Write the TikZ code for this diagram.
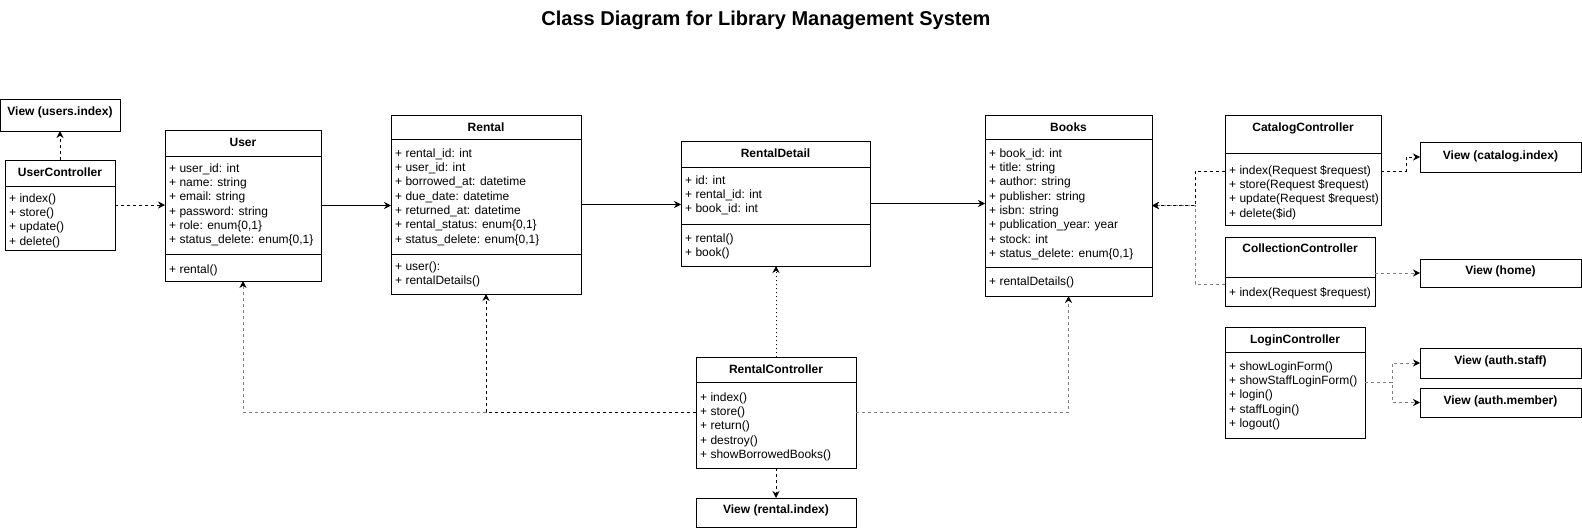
\documentclass[tikz,border=0pt]{standalone}
\usepackage{fontspec}
\setmainfont{Liberation Sans}
\usetikzlibrary{arrows.meta}
\newcommand\cdmembers[4]{%
  \foreach \t [count=\i] in {#4}{\node[mem] (#1\i) at (#2,{#3+14.3*(\i-1)}) {\t};}}
\tikzset{
  box/.style={draw=black, line width=1pt, fill=white, inner sep=0pt, outer sep=0pt, anchor=north west},
  ttl/.style={font=\fontsize{12}{14.3}\selectfont\bfseries, inner sep=0pt, anchor=base},
  mem/.style={font=\fontsize{12}{14.3}\selectfont, inner sep=0pt, anchor=base west},
  sepline/.style={line width=1pt},
  tipb/.tip={Stealth[length=7pt,width=7pt,color=black]},
  assoc/.style={line width=1pt, -tipb},
  dep/.style={line width=1pt, dash pattern=on 3pt off 3pt, -tipb},
  depg/.style={dep, draw=black!50},
  dotdep/.style={line width=1pt, dash pattern=on 1pt off 3pt, -tipb}
}
\begin{document}
\begin{tikzpicture}[x=1pt,y=-1pt]
\fill[white] (0,0) rectangle (1582,528);
\useasboundingbox (0,0) rectangle (1582,528);

% title
\node[font=\fontsize{20}{24}\selectfont\bfseries, inner sep=0pt] (title) at (766,20) {Class Diagram for Library Management System};

% ---------- boxes ----------
% View (users.index)
\node[box, minimum width=119.5, minimum height=32] (vusers) at (0.5,99) {};
\node[ttl] (vusers-t) at (60,115.5) {View (users.index)};

% UserController
\node[box, minimum width=110, minimum height=90] (uc) at (5,160) {};
\draw[sepline] (5,186) -- (115,186);
\node[ttl] (uc-t) at (60,176.5) {UserController};
\cdmembers{ucm}{9}{202.3}{+ index(), + store(), + update(), + delete()}

% User
\node[box, minimum width=156, minimum height=151] (user) at (165,130) {};
\draw[sepline] (165,156) -- (321,156);
\draw[sepline] (165,254) -- (321,254);
\node[ttl] (user-t) at (243,146.5) {User};
\cdmembers{usera}{169}{172.3}{+ user\_id: int, + name: string, + email: string, + password: string, {+ role: enum\{0,1\}}, {+ status\_delete: enum\{0,1\}}}
\cdmembers{userm}{169}{273.3}{+ rental()}

% Rental
\node[box, minimum width=190, minimum height=179] (rental) at (391,115) {};
\draw[sepline] (391,139) -- (581,139);
\draw[sepline] (391,254) -- (581,254);
\node[ttl] (rental-t) at (486,131) {Rental};
\cdmembers{rentala}{395}{157.3}{+ rental\_id: int, + user\_id: int, + borrowed\_at: datetime, + due\_date: datetime, + returned\_at: datetime, {+ rental\_status: enum\{0,1\}}, {+ status\_delete: enum\{0,1\}}}
\cdmembers{rentalm}{395}{270.3}{+ user():, + rentalDetails()}

% RentalDetail
\node[box, minimum width=189, minimum height=125] (rd) at (681,141) {};
\draw[sepline] (681,167) -- (870,167);
\draw[sepline] (681,224) -- (870,224);
\node[ttl] (rd-t) at (775.5,157.5) {RentalDetail};
\cdmembers{rda}{685}{184.3}{+ id: int, + rental\_id: int, + book\_id: int}
\cdmembers{rdm}{685}{242.3}{+ rental(), + book()}

% Books
\node[box, minimum width=167, minimum height=181] (books) at (985,115) {};
\draw[sepline] (985,139) -- (1152,139);
\draw[sepline] (985,267) -- (1152,267);
\node[ttl] (books-t) at (1068.5,131) {Books};
\cdmembers{booksa}{989}{157.3}{+ book\_id: int, + title: string, + author: string, + publisher: string, + isbn: string, + publication\_year: year, + stock: int, {+ status\_delete: enum\{0,1\}}}
\cdmembers{booksm}{989}{285.3}{+ rentalDetails()}

% CatalogController
\node[box, minimum width=156, minimum height=110] (cat) at (1225,115) {};
\draw[sepline] (1225,153) -- (1381,153);
\node[ttl] (cat-t) at (1303,131) {CatalogController};
\cdmembers{catm}{1229}{174.3}{+ index(Request \$request), + store(Request \$request), + update(Request \$request), + delete(\$id)}

% View (catalog.index)
\node[box, minimum width=161, minimum height=30] (vcat) at (1420,142) {};
\node[ttl] (vcat-t) at (1500.5,159.5) {View (catalog.index)};

% CollectionController
\node[box, minimum width=150, minimum height=69] (coll) at (1225,237) {};
\draw[sepline] (1225,277) -- (1375,277);
\node[ttl] (coll-t) at (1300,252.5) {CollectionController};
\cdmembers{collm}{1229}{296.3}{+ index(Request \$request)}

% View (home)
\node[box, minimum width=161, minimum height=28] (vhome) at (1420,259) {};
\node[ttl] (vhome-t) at (1500.5,274) {View (home)};

% LoginController
\node[box, minimum width=140, minimum height=111] (login) at (1225,327) {};
\draw[sepline] (1225,352) -- (1365,352);
\node[ttl] (login-t) at (1295,343.3) {LoginController};
\cdmembers{loginm}{1229}{370.3}{+ showLoginForm(), + showStaffLoginForm(), + login(), + staffLogin(), + logout()}

% View (auth.staff) / (auth.member)
\node[box, minimum width=161, minimum height=30] (vstaff) at (1420,348) {};
\node[ttl] (vstaff-t) at (1500.5,364.3) {View (auth.staff)};
\node[box, minimum width=161, minimum height=29] (vmember) at (1420,388) {};
\node[ttl] (vmember-t) at (1500.5,404) {View (auth.member)};

% RentalController
\node[box, minimum width=160, minimum height=111] (rc) at (696,357) {};
\draw[sepline] (696,382) -- (856,382);
\node[ttl] (rc-t) at (776,373) {RentalController};
\cdmembers{rcm}{700}{401.3}{+ index(), + store(), + return(), + destroy(), + showBorrowedBooks()}

% View (rental.index)
\node[box, minimum width=160, minimum height=29] (vrental) at (696,498) {};
\node[ttl] (vrental-t) at (776,513.3) {View (rental.index)};

% ---------- connectors ----------
\draw[dep] (uc.north) -- (uc.north |- vusers.south);
\draw[dep] (uc.east) -- (uc.east -| user.west);
\draw[assoc] (user.east) -- (user.east -| rental.west);
\draw[assoc] (rental.east) -- (rental.east -| rd.west);
\draw[assoc] (rd.east) -- (rd.east -| books.west);

\path (books.east) ++(43,0) coordinate (jn);
\draw[depg] (coll.west |- 0,284) -| (jn) -- (books.east);
\draw[dep] (cat.west |- 0,171) -| (jn) -- (books.east);
\draw[dep] (cat.east |- 0,171) -| ([xshift=-14pt]vcat.west) -- (vcat.west);
\draw[depg] (coll.east |- vhome.west) -- (vhome.west);
\draw[depg] (login.east |- 0,382) -| ([xshift=-28pt]vstaff.west) -- (vstaff.west);
\draw[depg] (login.east |- 0,382) -| ([xshift=-28pt]vmember.west) -- (vmember.west);

\draw[depg] (rc.west |- 0,412) -| (user.south);
\draw[dep] (rc.west |- 0,412) -| (rental.south);
\draw[depg] (rc.east |- 0,412) -| (books.south);
\draw[dotdep] (rc.north) -- (rc.north |- rd.south);
\draw[dep] (rc.south) -- (vrental.north);
\end{tikzpicture}
\end{document}
